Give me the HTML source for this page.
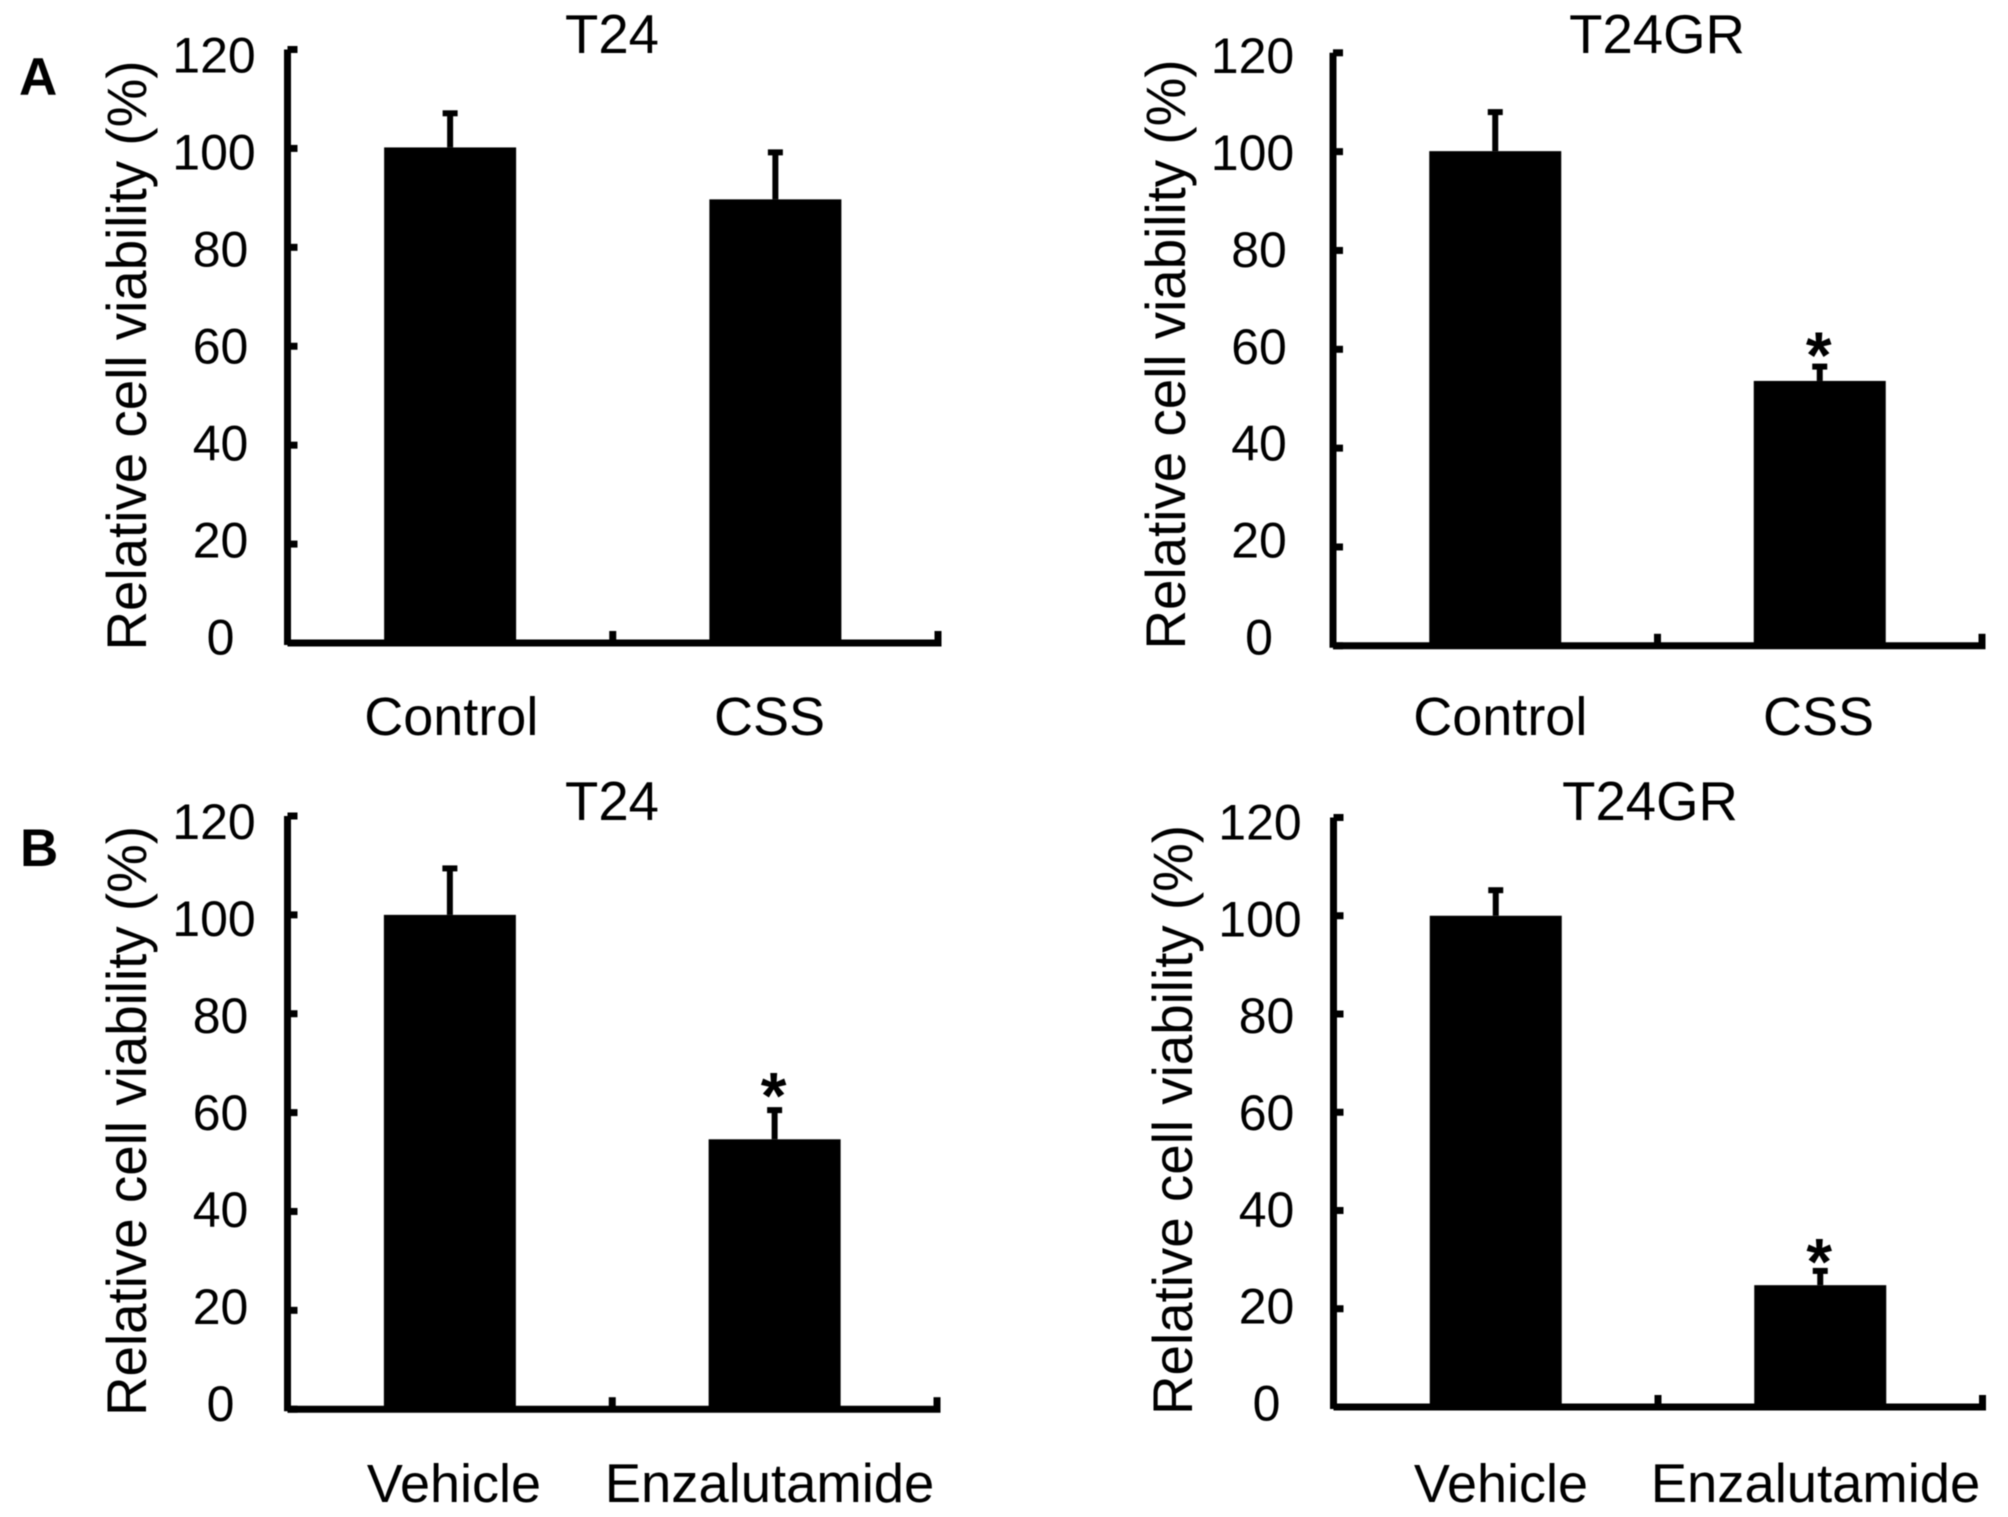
<!DOCTYPE html>
<html lang="en">
<head>
<meta charset="utf-8">
<title>Relative cell viability panels</title>
<style>
html,body{margin:0;padding:0;background:#fff;}
svg{display:block;filter:blur(0.5px);}
text{font-family:"Liberation Sans",Arial,sans-serif;fill:#000;}
</style>
</head>
<body>
<svg id="figure" xmlns="http://www.w3.org/2000/svg" width="2008" height="1517" viewBox="0 0 2008 1517">
  <rect x="0" y="0" width="2008" height="1517" fill="#fff"/>
  <text x="19" y="95" font-size="53" font-weight="700">A</text>
  <text x="20" y="866" font-size="53" font-weight="700">B</text>
</svg>
<script>
const yTickLabels = [0, 20, 40, 60, 80, 100, 120];
const yAxisTitle = 'Relative cell viability (%)';

const panelATitle1 = 'T24';
const panelACategories1 = ['Control', 'CSS'];
const panelAValues1 = [100.2, 89.7];
const panelAErrorTops1 = [107.1, 99.2];
const panelASignificant1 = [false, false];

const panelATitle2 = 'T24GR';
const panelACategories2 = ['Control', 'CSS'];
const panelAValues2 = [100.1, 53.6];
const panelAErrorTops2 = [108, 56.5];
const panelASignificant2 = [false, true];

const panelBTitle1 = 'T24';
const panelBCategories1 = ['Vehicle', 'Enzalutamide'];
const panelBValues1 = [100, 54.6];
const panelBErrorTops1 = [109.4, 60.5];
const panelBSignificant1 = [false, true];

const panelBTitle2 = 'T24GR';
const panelBCategories2 = ['Vehicle', 'Enzalutamide'];
const panelBValues2 = [100, 24.8];
const panelBErrorTops2 = [105.2, 27.7];
const panelBSignificant2 = [false, true];

const svg = document.getElementById('figure');
const NS = 'http://www.w3.org/2000/svg';

function make(tag, attrs, text) {
  const el = document.createElementNS(NS, tag);
  for (const k in attrs) el.setAttribute(k, attrs[k]);
  if (text !== undefined) el.textContent = text;
  svg.appendChild(el);
  return el;
}

function drawPanel(title, categories, values, errorTops, significant, L) {
  const yMax = yTickLabels[yTickLabels.length - 1];
  const yScale = v => L.yZero - (v / yMax) * (L.yZero - L.yTop);
  const labelScale = v => L.labelZero - (v / yMax) * (L.labelZero - L.labelTop);
  const band = (L.xEnd - L.xStart) / categories.length;
  const xCenter = i => L.xStart + band * (i + 0.5);
  const barWidth = 132;

  categories.forEach((cat, i) => {
    const bar = make('rect', {x: xCenter(i) - barWidth / 2, y: yScale(values[i]), width: barWidth, height: yScale(0) - yScale(values[i]), fill: '#000'});
    
    

    const stem = make('line', {x1: xCenter(i), x2: xCenter(i), y1: yScale(values[i]), y2: yScale(errorTops[i]), stroke: '#000', 'stroke-width': 6});
    
    

    const cap = make('line', {x1: xCenter(i) - 7.5, x2: xCenter(i) + 7.5, y1: yScale(errorTops[i]), y2: yScale(errorTops[i]), stroke: '#000', 'stroke-width': 6});
    
    

    if (significant[i]) {
      const star = make('text', {x: xCenter(i) - 1, y: yScale(errorTops[i]) + L.starOffset, 'font-size': 66, 'font-weight': 700, 'text-anchor': 'middle'}, '*');
      
      
    }

    const catLabel = make('text', {x: L.catX[i], y: L.catY, 'font-size': L.catSize[i], 'text-anchor': 'middle'}, cat);
    
    
  });

  const yAxis = make('line', {x1: L.xStart, x2: L.xStart, y1: yScale(yMax), y2: yScale(0) + 2, stroke: '#000', 'stroke-width': 7});
  
  

  const xAxis = make('line', {x1: L.xStart, x2: L.xEnd + 3.5, y1: yScale(0), y2: yScale(0), stroke: '#000', 'stroke-width': 7});
  
  

  yTickLabels.forEach(v => {
    const tick = make('line', {x1: L.xStart, x2: L.xStart + 10, y1: yScale(v), y2: yScale(v), stroke: '#000', 'stroke-width': 7});
    
    

    const s = String(v);
    const lab = make('text', {x: L.labelX - (s.length === 3 ? 6.5 : 0), y: labelScale(v), 'font-size': 50, 'text-anchor': 'middle'}, s);
    
    
  });

  for (let i = 1; i <= categories.length; i++) {
    const xt = L.xStart + band * i;
    const tick = make('line', {x1: xt, x2: xt, y1: yScale(0), y2: yScale(0) - 12, stroke: '#000', 'stroke-width': 7});
    
    
  }

  const t = make('text', {x: L.titleX, y: L.titleY, 'font-size': 54.5, 'text-anchor': 'middle'}, title);
  
  

  const yt = make('text', {x: 0, y: 0, 'font-size': 56, 'text-anchor': 'middle', textLength: 590, lengthAdjust: 'spacingAndGlyphs', transform: 'translate(' + L.yTitleX + ' ' + L.yTitleY + ') rotate(-90)'}, yAxisTitle);
  
  
}

drawPanel(panelATitle1, panelACategories1, panelAValues1, panelAErrorTops1, panelASignificant1,
  {xStart: 287.5, xEnd: 938, yZero: 643, yTop: 49.5, labelZero: 654.5, labelTop: 72.5, labelX: 220.5, catX: [451.3, 769.5], catSize: [54, 54], catY: 735, titleX: 612, titleY: 53, yTitleX: 146, yTitleY: 355.5, starOffset: 14.6});
drawPanel(panelATitle2, panelACategories2, panelAValues2, panelAErrorTops2, panelASignificant2,
  {xStart: 1333, xEnd: 1982, yZero: 645.8, yTop: 52.8, labelZero: 654.5, labelTop: 73, labelX: 1259, catX: [1500.3, 1818.5], catSize: [54, 54], catY: 735, titleX: 1657, titleY: 53, yTitleX: 1185, yTitleY: 354.5, starOffset: 11.6});
drawPanel(panelBTitle1, panelBCategories1, panelBValues1, panelBErrorTops1, panelBSignificant1,
  {xStart: 287.5, xEnd: 937, yZero: 1409.2, yTop: 816, labelZero: 1421, labelTop: 839, labelX: 220.5, catX: [454, 769.5], catSize: [54, 54.4], catY: 1502, titleX: 612, titleY: 820, yTitleX: 146, yTitleY: 1121, starOffset: 8.6});
drawPanel(panelBTitle2, panelBCategories2, panelBValues2, panelBErrorTops2, panelBSignificant2,
  {xStart: 1333.5, xEnd: 1982.5, yZero: 1407, yTop: 817.5, labelZero: 1420.5, labelTop: 839.5, labelX: 1266.5, catX: [1501, 1815.5], catSize: [54, 54.4], catY: 1502, titleX: 1650, titleY: 820, yTitleX: 1192, yTitleY: 1120, starOffset: 13.6});
</script>
</body>
</html>
